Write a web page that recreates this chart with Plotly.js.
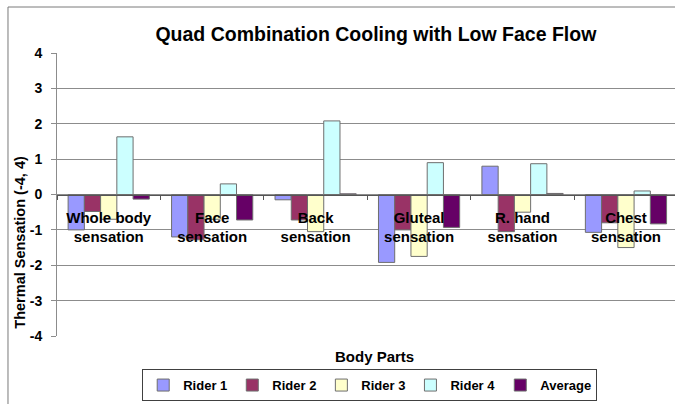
<!DOCTYPE html>
<html>
<head>
<meta charset="utf-8">
<script src="https://cdn.plot.ly/plotly-3.0.1.min.js"></script>
<style>html,body{margin:0;padding:0;overflow:hidden;background:#fff}#chart{width:675px;height:404px}</style>
</head>
<body>
<div id="chart"></div>
<script>
var categories = ["Whole body<br>sensation", "Face<br>sensation", "Back<br>sensation", "Gluteal<br>sensation", "R. hand<br>sensation", "Chest<br>sensation"];
var seriesNames = ["Rider 1", "Rider 2", "Rider 3", "Rider 4", "Average"];
var rider1 = [-1.0, -1.2, -0.15, -1.92, 0.8, -1.07];
var rider2 = [-0.48, -1.28, -0.72, -1.0, -1.05, -0.8];
var rider3 = [-0.7, -0.7, -1.05, -1.75, -0.5, -1.5];
var rider4 = [1.63, 0.3, 2.08, 0.9, 0.87, 0.1];
var average = [-0.13, -0.72, 0.02, -0.93, 0.03, -0.83];
var yTicks = [-4, -3, -2, -1, 0, 1, 2, 3, 4];

var colors = ["#9999FF", "#993366", "#FFFFCC", "#CCFFFF", "#660066"];
var values = [rider1, rider2, rider3, rider4, average];
var FONT = "Liberation Sans, Arial, sans-serif";

var traces = values.map(function (v, i) {
  return {
    type: "bar",
    name: seriesNames[i],
    x: categories,
    y: v,
    marker: { color: colors[i], line: { color: "#6e6e6e", width: 1 } },
    hoverinfo: "skip"
  };
});

var layout = {
  width: 675,
  height: 404,
  margin: { l: 57, r: 0, t: 53, b: 68, autoexpand: false },
  paper_bgcolor: "#ffffff",
  plot_bgcolor: "#ffffff",
  barmode: "group",
  bargap: 0.215,
  bargroupgap: 0,
  showlegend: true,
  font: { family: FONT, color: "#000", size: 13 },
  title: {
    text: "<b>Quad Combination Cooling with Low Face Flow</b>",
    font: { family: FONT, size: 19.5, color: "#000" },
    xref: "paper", x: 0.516, xanchor: "center",
    yref: "container", y: 0.916, yanchor: "middle",
    automargin: false
  },
  xaxis: {
    type: "category",
    range: [-0.5, 5.474],
    anchor: "free",
    position: 0.5,
    showline: true,
    linecolor: "#555555",
    linewidth: 1,
    ticks: "outside",
    tickson: "boundaries",
    ticklen: 4,
    tickcolor: "#555555",
    showgrid: false,
    zeroline: false,
    tickfont: { family: FONT, size: 15, color: "#000", weight: "bold" },
    ticklabelstandoff: 9,
    automargin: false,
    fixedrange: true
  },
  yaxis: {
    range: [-4, 4],
    tickvals: yTicks,
    ticktext: yTicks.map(String),
    showline: true,
    linecolor: "#8c8c8c",
    linewidth: 1,
    ticks: "outside",
    ticklen: 5,
    tickcolor: "#8c8c8c",
    showgrid: true,
    gridcolor: "#8c8c8c",
    gridwidth: 1,
    zeroline: false,
    tickfont: { family: FONT, size: 14, color: "#000", weight: "bold" },
    ticklabelstandoff: 6,
    automargin: false,
    fixedrange: true
  },
  legend: {
    orientation: "h",
    x: 0.506, xanchor: "center",
    y: -0.117, yanchor: "top",
    bgcolor: "#ffffff",
    bordercolor: "#404040",
    borderwidth: 1,
    font: { family: FONT, size: 13, color: "#000", weight: "bold" },
    itemwidth: 30,
    traceorder: "normal"
  },
  annotations: [
    {
      text: "<b>Thermal Sensation (-4, 4)</b>",
      textangle: -90,
      xref: "paper", x: -0.0598, xanchor: "center",
      yref: "paper", y: 0.33, yanchor: "middle",
      showarrow: false,
      font: { family: FONT, size: 14.5, color: "#000" }
    },
    {
      text: "<b>Body Parts</b>",
      xref: "paper", x: 0.5135, xanchor: "center",
      yref: "paper", y: -0.0725, yanchor: "middle",
      showarrow: false,
      font: { family: FONT, size: 15, color: "#000" }
    }
  ],
  shapes: [
    {
      type: "rect", xref: "paper", yref: "paper", layer: "below",
      x0: -0.0793, x1: 1.2, y0: -0.4, y1: 1.1625,
      line: { color: "#7a7a7a", width: 1 }, fillcolor: "rgba(0,0,0,0)"
    }
  ]
};

Plotly.newPlot("chart", traces, layout, { staticPlot: true, displayModeBar: false });
</script>
</body>
</html>
